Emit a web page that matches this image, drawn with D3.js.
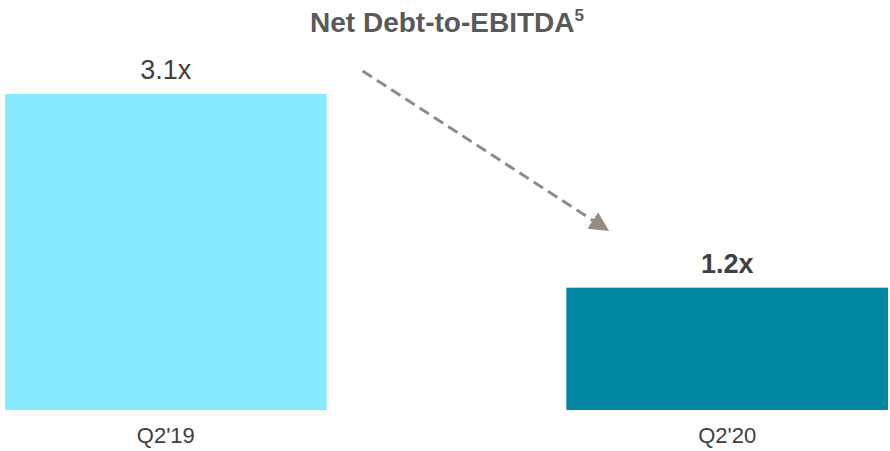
<!DOCTYPE html>
<html>
<head>
<meta charset="utf-8">
<script src="https://cdn.jsdelivr.net/npm/d3@7"></script>
<style>
	body { margin: 0; background: #fff; }
	svg { display: block; font-family: "Liberation Sans", Arial, sans-serif; }
</style>
</head>
<body>
<svg width="890" height="451"></svg>
<script>
//	chart data
var categories = ["Q2'19", "Q2'20"];
var values = [3.1, 1.2];
var valueLabels = ["3.1x", "1.2x"];
var barColors = ["#87ebfe", "#0087a3"];

var svg = d3.select("svg");
var width = +svg.attr("width"),
	height = +svg.attr("height");

//	scales
var x = d3.scaleBand().domain(categories).range([5, 888]).paddingInner(0.427).paddingOuter(0);
var y = d3.scaleLinear().domain([0, 3.1]).range([410, 94]);

//	title
var title = svg.append("text")
	.attr("x", 447)
	.attr("y", 32)
	.attr("text-anchor", "middle")
	.attr("fill", "#595959")
	.style("font-size", "28px")
	.style("font-weight", "bold")
	.text("Net Debt-to-EBITDA");
title.append("tspan")
	.attr("dy", -11)
	.style("font-size", "17px")
	.text("5");

//	bars
svg.selectAll(".bar")
	.data(values)
	.enter().append("rect")
	.attr("class", "bar")
	.attr("x", function(d, i) { return x(categories[i]); })
	.attr("y", function(d) { return y(d); })
	.attr("width", x.bandwidth())
	.attr("height", function(d) { return y(0) - y(d); })
	.attr("fill", function(d, i) { return barColors[i]; });

//	value labels, the last one is bold
svg.selectAll(".val")
	.data(values)
	.enter().append("text")
	.attr("class", "val")
	.attr("x", function(d, i) { return x(categories[i]) + x.bandwidth() / 2; })
	.attr("y", function(d) { return y(d) - 15; })
	.attr("text-anchor", "middle")
	.attr("fill", "#404040")
	.style("font-size", "27px")
	.style("font-weight", function(d, i) { return i == values.length - 1 ? "bold" : "normal"; })
	.text(function(d, i) { return valueLabels[i]; });

//	x axis, no line and no ticks
var axisX = svg.append("g")
	.attr("transform", "translate(0," + y(0) + ")")
	.call(d3.axisBottom(x).tickSize(0).tickPadding(17));
axisX.select(".domain").remove();
axisX.selectAll("text")
	.attr("fill", "#404040")
	.style("font-family", "'Liberation Sans', Arial, sans-serif")
	.style("font-size", "22px");

//	dashed arrow between the two bars
var defs = svg.append("defs");
defs.append("marker")
	.attr("id", "head")
	.attr("viewBox", "0 0 10 10")
	.attr("refX", 4)
	.attr("refY", 5)
	.attr("markerWidth", 6.5)
	.attr("markerHeight", 6.5)
	.attr("markerUnits", "strokeWidth")
	.attr("orient", "auto")
	.append("path")
		.attr("d", "M0,0 L10,5 L0,10 Z")
		.attr("fill", "#968b82");

var x0 = x(categories[0]) + x.bandwidth() + 36,
	y0 = y(values[0]) - 23,
	x1 = x(categories[1]) + 33,
	y1 = y(values[1]) - 63;
svg.append("line")
	.attr("x1", x0)
	.attr("y1", y0)
	.attr("x2", x1)
	.attr("y2", y1)
	.attr("stroke", "#968b82")
	.attr("stroke-width", 3)
	.attr("stroke-dasharray", "11,6")
	.attr("marker-end", "url(#head)");
</script>
</body>
</html>
